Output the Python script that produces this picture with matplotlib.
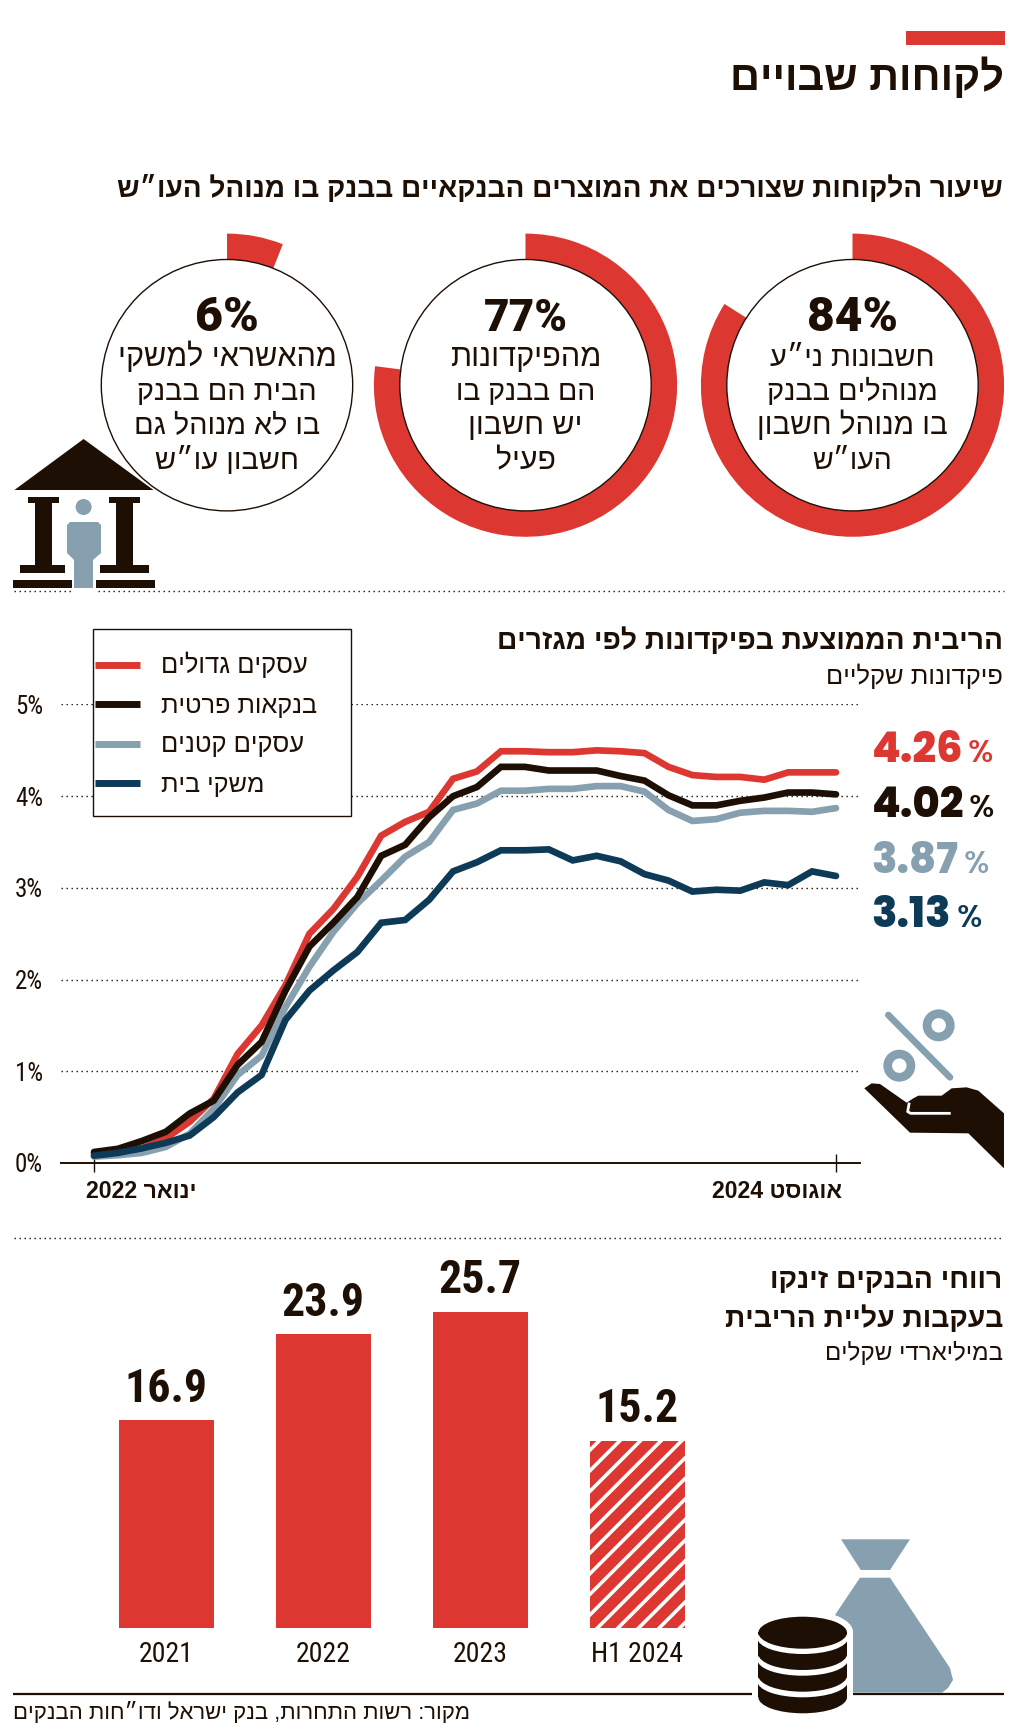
import re
import matplotlib
matplotlib.use("Agg")
import matplotlib.pyplot as plt
from matplotlib.patches import Circle, Ellipse, Polygon, Rectangle

# ---------- data ----------
line_names = ["עסקים גדולים", "בנקאות פרטית", "עסקים קטנים", "משקי בית"]
large_biz = [0.10,0.13,0.16,0.27,0.45,0.70,1.19,1.50,1.94,2.50,2.77,3.12,3.57,3.72,3.83,4.19,4.27,
             4.49,4.49,4.48,4.48,4.50,4.49,4.47,4.32,4.23,4.21,4.21,4.18,4.26,4.26,4.26]
private_bank = [0.12,0.155,0.24,0.34,0.54,0.68,1.07,1.32,1.88,2.36,2.62,2.90,3.35,3.47,3.77,4.00,4.10,
                4.32,4.32,4.28,4.28,4.28,4.22,4.17,4.01,3.90,3.90,3.95,3.985,4.04,4.04,4.02]
small_biz = [0.07,0.085,0.11,0.175,0.32,0.59,0.96,1.17,1.70,2.14,2.52,2.83,3.08,3.34,3.50,3.85,3.92,
             4.06,4.06,4.08,4.08,4.11,4.11,4.05,3.85,3.73,3.75,3.82,3.84,3.84,3.83,3.87]
households = [0.08,0.11,0.16,0.22,0.30,0.50,0.77,0.96,1.56,1.88,2.10,2.30,2.62,2.65,2.87,3.18,3.28,
              3.41,3.41,3.42,3.30,3.35,3.29,3.15,3.08,2.96,2.98,2.97,3.06,3.03,3.18,3.13]
end_labels = ["4.26", "4.02", "3.87", "3.13"]
y_ticks = [0, 1, 2, 3, 4, 5]

bar_labels = ["2021", "2022", "2023", "H1 2024"]
bar_values = [16.9, 23.9, 25.7, 15.2]

donut_values = [84, 77, 6]
donut_texts = [["חשבונות ני״ע", "מנוהלים בבנק", "בו מנוהל חשבון", "העו״ש"],
               ["מהפיקדונות", "הם בבנק בו", "יש חשבון", "פעיל"],
               ["מהאשראי למשקי", "הבית הם בבנק", "בו לא מנוהל גם", "חשבון עו״ש"]]
donut_widths = [[165, 171, 191, 80], [151, 140, 114, 60], [219, 180, 186, 144]]
donut_pct_widths = [91, 84, 64]

# ---------- style ----------
RED, INK, GRAY, NAVY = "#DC3831", "#1E0F05", "#86A0AF", "#0C3A57"
HEB = ["Liberation Sans", "DejaVu Sans"]
NUM = ["Roboto", "DejaVu Sans"]
CON = ["Roboto Condensed", "Roboto", "DejaVu Sans"]
GEO = ["Poppins", "Lato", "DejaVu Sans"]
W, H = 1024, 1734

fig = plt.figure(figsize=(W / 100, H / 100), dpi=100, facecolor="white")
renderer = fig.canvas.get_renderer()


def axes_px(x0, y0, x1, y1, **kw):
    return fig.add_axes([x0 / W, 1 - y1 / H, (x1 - x0) / W, (y1 - y0) / H], **kw)


over = fig.add_axes([0, 0, 1, 1], zorder=10)
over.set_xlim(0, W)
over.set_ylim(H, 0)
over.axis("off")
over.patch.set_alpha(0)


def vis(s):
    r = s[::-1]
    return re.sub(r"[0-9][0-9.,]*", lambda m: m.group(0)[::-1], r)


def T(x, y, s, width=None, size=14, ha="right", color=INK, weight="normal", family=None, rtl=True):
    t = over.text(x, y, vis(s) if rtl else s, fontsize=size, ha=ha, va="baseline", color=color,
                  fontweight=weight, family=family or HEB)
    if width:
        t.set_fontsize(size * width / t.get_window_extent(renderer).width)
    return t


def px_line(xs, ys, **kw):
    over.plot(xs, ys, **kw)


# ---------- header ----------
over.add_patch(Rectangle((906, 31), 99, 14, color=RED, lw=0))
T(1004, 90, "לקוחות שבויים", width=274, size=30, weight="bold")
T(1003, 197, "שיעור הלקוחות שצורכים את המוצרים הבנקאיים בבנק בו מנוהל העו״ש", width=887, size=24, weight="bold")

# ---------- donuts ----------
centers = [852.5, 525.5, 227]
CY, RO, RI = 385.2, 151.6, 125.7
for cx, v, lines, widths, pw in zip(centers, donut_values, donut_texts, donut_widths, donut_pct_widths):
    ax = axes_px(cx - RO, CY - RO, cx + RO, CY + RO)
    ax.pie([v, 100 - v], colors=[RED, "none"], startangle=90, counterclock=False, radius=1,
           wedgeprops=dict(width=1 - RI / RO, linewidth=0))
    ax.add_patch(Circle((0, 0), RI / RO, facecolor="white", edgecolor=INK, lw=1.0, zorder=5))
    ax.set_xlim(-1, 1)
    ax.set_ylim(-1, 1)
    ax.axis("off")
    T(cx, 331, f"{v}%", width=pw, size=30, ha="center", weight=900, family=NUM, rtl=False)
    for yb, line, w in zip([366, 400, 434, 469], lines, widths):
        T(cx, yb, line, width=w, size=20, ha="center")

# ---------- bank icon ----------
over.add_patch(Polygon([(83.6, 439), (14.4, 490), (153.5, 490)], color=INK, lw=0))
for x0, x1, fx0, fx1 in [(28, 59, 20, 65), (109, 140, 100, 149)]:
    over.add_patch(Rectangle((x0, 497), x1 - x0, 6, color=INK, lw=0))
    over.add_patch(Rectangle((x0 + 7, 497), x1 - x0 - 14, 70, color=INK, lw=0))
    over.add_patch(Rectangle((fx0, 565), fx1 - fx0, 8, color=INK, lw=0))
over.add_patch(Rectangle((13, 580), 59, 8, color=INK, lw=0))
over.add_patch(Rectangle((96, 580), 59, 8, color=INK, lw=0))
over.add_patch(Ellipse((83.6, 507), 16, 16, color=GRAY, lw=0))
over.add_patch(Polygon([(70, 522), (98, 522), (101, 525), (101, 553), (93, 560), (93, 588),
                        (74, 588), (74, 560), (67, 553), (67, 525)], color=GRAY, lw=0))

# ---------- separators ----------
dots = dict(color=INK, lw=1.0, ls=(0, (1, 2.6)))
px_line([14, 72], [590.5, 590.5], **dots)
px_line([98, 1004], [590.5, 590.5], **dots)
px_line([14, 1004], [1238, 1238], **dots)

# ---------- line chart ----------
T(1003, 649, "הריבית הממוצעת בפיקדונות לפי מגזרים", width=506, size=24, weight="bold")
T(1003, 684, "פיקדונות שקליים", width=177, size=20)

X0, X1, STEP = 94, 836, (836 - 94) / 31
lax = axes_px(61, 704.5, 860, 1163)
lax.set_xlim(-(X0 - 61) / STEP, 31 + (860 - X1) / STEP)
lax.set_ylim(0, 5)
lax.patch.set_alpha(0)
xs = list(range(len(large_biz)))
series = [(small_biz, GRAY), (large_biz, RED), (private_bank, INK), (households, NAVY)]
for vals, c in series:
    lax.plot(xs, vals, color=c, lw=4.8, solid_capstyle="round", solid_joinstyle="miter", clip_on=False, zorder=3)
lax.set_yticks(y_ticks)
lax.set_yticklabels([f"{t}%" for t in y_ticks], fontsize=18, color=INK, family=CON)
lax.tick_params(axis="y", length=0, pad=13)
lax.set_xticks([0, 31])
lax.set_xticklabels(["", ""])
lax.tick_params(axis="x", direction="inout", length=13, width=1, color=INK)
lax.grid(axis="y", color=INK, lw=1.0, ls=(0, (1, 2.6)))
lax.set_axisbelow(True)
for s in ["top", "left", "right"]:
    lax.spines[s].set_visible(False)
lax.spines["bottom"].set_color(INK)
lax.spines["bottom"].set_linewidth(1.4)
T(196, 1198, "ינואר 2022", width=111, size=15, weight="bold")
T(842, 1198, "אוגוסט 2024", width=130, size=15, weight="bold")

# legend box
over.add_patch(Rectangle((93, 629), 258, 187, facecolor="white", edgecolor=INK, lw=1.0))
for yl, yb, name, c, w in zip([664.5, 704, 743.5, 783], [673, 712.5, 752, 792], line_names,
                              [RED, INK, GRAY, NAVY], [147, 157, 144, 104]):
    px_line([95, 140], [yl, yl], color=c, lw=5, solid_capstyle="butt")
    T(161, yb, name, width=w, size=18, ha="left")

# end labels
for lab, yb, right, c in zip(end_labels, [761.7, 817, 872.7, 927], [992.7, 994, 989.3, 982], [RED, INK, GRAY, NAVY]):
    T(871.5, yb, lab, size=30, ha="left", color=c, weight=800, family=GEO, rtl=False)
    T(right, yb, "%", size=23, ha="right", color=c, weight=500, family=GEO, rtl=False)

# percent & hand icon
hp = lambda pts: [(860 + x / 3, 1000 + y / 3) for x, y in pts]
px_line(*zip(*hp([(85, 45), (270, 232)])), color=GRAY, lw=4.8, solid_capstyle="round")
for c in hp([(236, 76), (118, 197)]):
    over.add_patch(Circle(c, 11.6, facecolor="none", edgecolor=GRAY, lw=6.3))
over.add_patch(Polygon(hp([(13, 265), (35, 250), (60, 252), (140, 308), (160, 295), (175, 287), (245, 287),
                           (275, 265), (320, 262), (355, 272), (432, 340), (432, 505), (325, 400), (150, 398)]),
                       color=INK, lw=0))
px_line(*zip(*hp([(147, 312), (143, 335), (152, 340), (268, 340)])), color="white", lw=2.0)

# ---------- bars ----------
T(1002, 1288, "רווחי הבנקים זינקו", width=233, size=22, weight="bold")
T(1003, 1327, "בעקבות עליית הריבית", width=278, size=22, weight="bold")
T(1003, 1360, "במיליארדי שקלים", width=178, size=20)

BC, BS, BW, U = 166.3, 157, 94.7, 12.29
bax = axes_px(13, 1240, 1004, 1628)
bax.set_xlim((13 - BC) / BS, (1004 - BC) / BS)
bax.set_ylim(0, (1628 - 1240) / U)
bax.patch.set_alpha(0)
bars = bax.bar(range(len(bar_values)), bar_values, width=BW / BS, color=RED, lw=0)
for i, v in enumerate(bar_values):
    bax.annotate(f"{v}", (i, v), xytext=(0, 13.5), textcoords="offset points", ha="center", va="baseline",
                 fontsize=33, fontweight="bold", color=INK, family=CON, annotation_clip=False)
bax.set_xticks(range(len(bar_labels)))
bax.set_xticklabels(bar_labels, fontsize=20, color=INK, family=CON)
bax.tick_params(axis="x", length=0, pad=9)
bax.set_yticks([])
for s in bax.spines.values():
    s.set_visible(False)

# white stripes of the H1 2024 bar, clipped to that bar
c = 2040 - 20.6
while c < 2320:
    ln, = bax.plot([c - 1400, c - 1700], [1400, 1700], color="white", lw=2.6, zorder=3,
                   transform=over.transData)
    ln.set_clip_path(bars[3])
    c += 20.6

# ---------- footer ----------
px_line([13, 1004], [1693.5, 1693.5], color=INK, lw=1.6, solid_capstyle="butt")
T(13, 1719, "מקור: רשות התחרות, בנק ישראל ודו״חות הבנקים", width=459, size=18, ha="left")

# bag
over.add_patch(Polygon([(841, 1539.3), (910, 1539.3), (890, 1570), (860.7, 1570)], color=GRAY, lw=0))
over.add_patch(Polygon([(860, 1577.7), (890, 1577.7), (950, 1668), (953, 1680), (948, 1688), (942, 1692.7),
                        (852, 1692.7), (835, 1615)], color=GRAY, lw=0, zorder=4))
# coins
cx, rx, ry = 802.7, 44.3, 16
over.add_patch(Ellipse((cx, 1632), 2 * rx + 12, 2 * ry + 12, color="white", lw=0, zorder=5))
over.add_patch(Rectangle((cx - rx - 6, 1632), 2 * rx + 12, 68, color="white", lw=0, zorder=5))
over.add_patch(Ellipse((cx, 1697.3), 2 * rx + 12, 2 * ry + 12, color="white", lw=0, zorder=5))
for yc in [1697.3, 1675.7, 1654]:
    over.add_patch(Ellipse((cx, yc), 2 * rx, 2 * ry, color=INK, lw=0, zorder=6))
    over.add_patch(Rectangle((cx - rx, yc - 22), 2 * rx, 22, color=INK, lw=0, zorder=6))
    over.add_patch(Ellipse((cx, yc - 16), 2 * rx + 2, 2 * ry, color="white", lw=0, zorder=6))
over.add_patch(Ellipse((cx, 1632.7), 2 * rx, 2 * ry, color=INK, lw=0, zorder=6))

fig.savefig("out.png", dpi=100)
